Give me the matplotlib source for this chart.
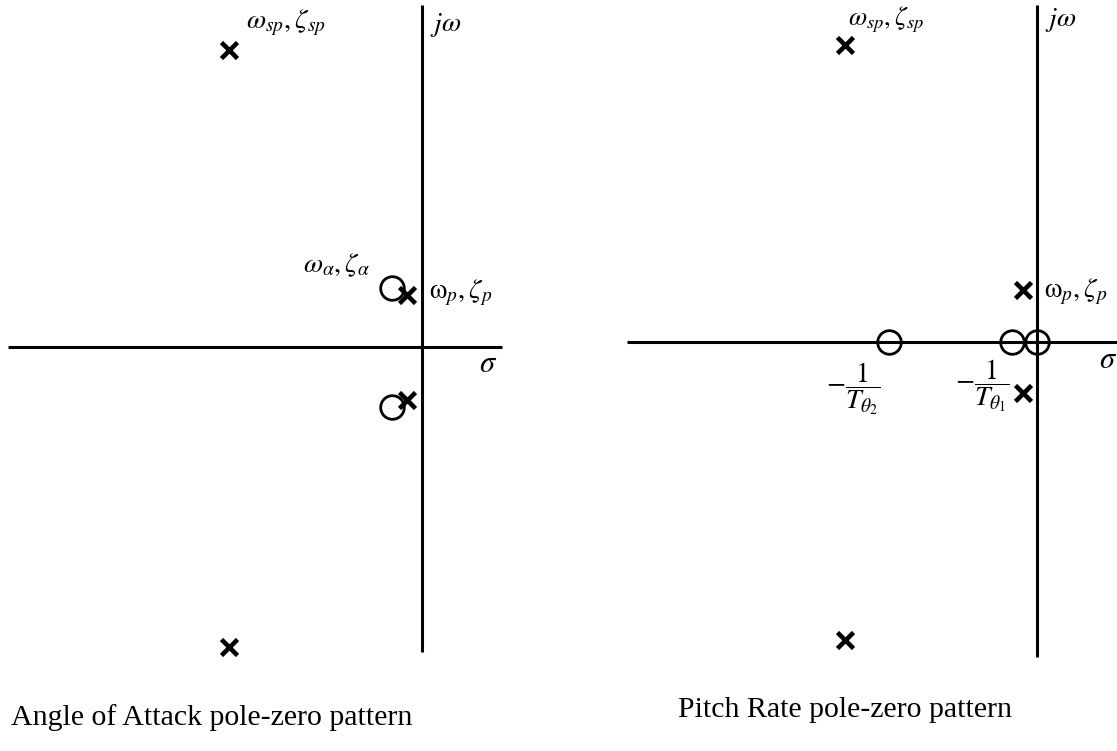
import matplotlib
matplotlib.use("Agg")
import matplotlib.pyplot as plt

plt.rcParams['mathtext.fontset'] = 'stix'
plt.rcParams['font.family'] = ['Liberation Serif', 'DejaVu Serif']

# s-plane positions (arbitrary units)
# Angle of attack: poles and zeros
aoa_pole_re = [-1.93, -1.93, -0.15, -0.15]
aoa_pole_im = [2.97, -3.00, 0.52, -0.53]
aoa_zero_re = [-0.30, -0.30]
aoa_zero_im = [0.59, -0.60]

# Pitch rate: poles and zeros
q_pole_re = [-1.92, -1.92, -0.14, -0.14]
q_pole_im = [2.97, -2.98, 0.52, -0.51]
q_zero_re = [-1.48, -0.25, 0.0]
q_zero_im = [0.0, 0.0, 0.0]

captions = ["Angle of Attack pole-zero pattern", "Pitch Rate pole-zero pattern"]

W, H = 1117, 751
fig = plt.figure(figsize=(W / 100, H / 100), dpi=100)

LW = 2.2
pole_kw = dict(marker='x', markersize=12, mew=3.3, color='black', linestyle='none')
zero_kw = dict(marker='o', markersize=17, mew=2.0, markerfacecolor='none',
               markeredgecolor='black', linestyle='none')


def panel(left_px, right_px, ox, oy, hspan, vspan):
    ax = fig.add_axes([left_px / W, 0, (right_px - left_px) / W, 1])
    ax.set_xlim((left_px - ox) / 100, (right_px - ox) / 100)
    ax.set_ylim((oy - H) / 100, oy / 100)
    ax.axis('off')
    ax.plot(hspan, [0, 0], color='black', lw=LW, solid_capstyle='butt')
    ax.plot([0, 0], vspan, color='black', lw=LW, solid_capstyle='butt')
    return ax


# left panel
ax1 = panel(0, 558, 422, 347, [-4.14, 0.80], [-3.05, 3.42])
ax1.plot(aoa_zero_re, aoa_zero_im, **zero_kw)
ax1.plot(aoa_pole_re, aoa_pole_im, **pole_kw)
ax1.text(aoa_pole_re[0] + 0.17, aoa_pole_im[0] + 0.12, r'$\omega_{sp},\zeta_{sp}$',
         fontsize=20, ha='left', va='bottom')
ax1.text(0.08, 3.22, r'$j\omega$', fontsize=20, ha='left', va='center')
ax1.text(-0.52, 0.82, r'$\omega_{\alpha},\zeta_{\alpha}$', fontsize=20, ha='right', va='center')
ax1.text(0.07, 0.54, r'$\mathrm{\omega}_{p},\zeta_{p}$', fontsize=20, ha='left', va='center')
ax1.text(0.57, -0.18, r'$\sigma$', fontsize=22, ha='left', va='center')

# right panel
ax2 = panel(558, W, 1037, 342, [-4.10, 0.80], [-3.15, 3.37])
ax2.plot(q_zero_re, q_zero_im, **zero_kw)
ax2.plot(q_pole_re, q_pole_im, **pole_kw)
ax2.text(q_pole_re[0] + 0.03, q_pole_im[0] + 0.10, r'$\omega_{sp},\zeta_{sp}$',
         fontsize=19, ha='left', va='bottom')
ax2.text(0.08, 3.22, r'$j\omega$', fontsize=20, ha='left', va='center')
ax2.text(0.07, 0.50, r'$\mathrm{\omega}_{p},\zeta_{p}$', fontsize=20, ha='left', va='center')
ax2.text(0.62, -0.18, r'$\sigma$', fontsize=22, ha='left', va='center')
ax2.text(q_zero_re[0] - 0.08, -0.47, r'$-\dfrac{1}{T_{\theta_2}}$', fontsize=20, ha='right', va='center')
ax2.text(q_zero_re[1] - 0.02, -0.44, r'$-\dfrac{1}{T_{\theta_1}}$', fontsize=20, ha='right', va='center')

fig.text(212 / W, 1 - 718 / H, captions[0], fontsize=21.5, ha='center', va='center')
fig.text(845 / W, 1 - 710 / H, captions[1], fontsize=21.5, ha='center', va='center')

fig.savefig('out.png', dpi=100)
